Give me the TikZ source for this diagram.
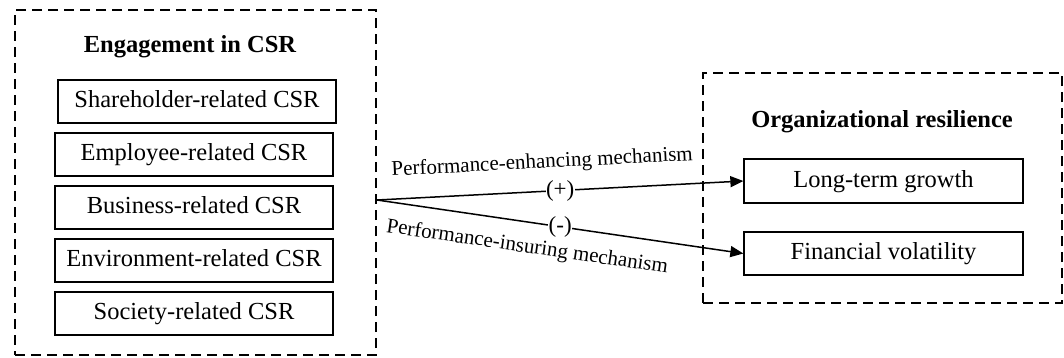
\documentclass[tikz,border=0pt]{standalone}
\usepackage{fontspec}
\setmainfont{Liberation Serif}
\usetikzlibrary{arrows.meta}
\begin{document}
\begin{tikzpicture}[x=1pt,y=-1pt,
  item/.style={draw, line width=1.3pt, minimum width=278pt, minimum height=43pt,
    inner sep=0pt, text height=17pt, text depth=5pt,
    font=\fontsize{24.5}{29}\selectfont},
  group/.style={draw, line width=1.4pt, dash pattern=on 10pt off 6pt, inner sep=0pt},
  ttl/.style={anchor=base, font=\fontsize{24.5}{29}\selectfont\bfseries},
  lbl/.style={font=\fontsize{21}{25}\selectfont, inner sep=1pt},
  sign/.style={font=\fontsize{23}{27}\selectfont, fill=white, inner sep=0.5pt},
  arr/.style={line width=1.5pt, -{Triangle[length=13pt,width=11pt]}}]
\useasboundingbox (0,0) rectangle (1064,357);
% groups
\node[group, minimum width=361pt, minimum height=345pt] (L) at (195.5,182.5) {};
\node[group, minimum width=359pt, minimum height=230pt] (R) at (882.5,188) {};
% titles
\node[ttl] (Lt) at (190,52) {Engagement in CSR};
\node[ttl] (Rt) at (882,127) {Organizational resilience};
% CSR items
\node[item] (sh) at (197,101.5) {Shareholder-related CSR};
\node[item] (em) at (194,154.5) {Employee-related CSR};
\node[item] (bu) at (194,207.5) {Business-related CSR};
\node[item] (en) at (194,260.5) {Environment-related CSR};
\node[item] (so) at (194,313.5) {Society-related CSR};
% outcomes
\node[item, minimum width=279pt, minimum height=44pt] (lt) at (883.5,181) {Long-term growth};
\node[item, minimum width=279pt, minimum height=43pt] (fv) at (883.5,253.5) {Financial volatility};
% connectors
\coordinate (src) at (377,200);
\draw[arr] (src) -- node[sign] {(+)}
  node[lbl, pos=0.455, sloped, above=17pt] {Performance-enhancing mechanism} (lt.west);
\draw[arr] (src) -- node[sign] {(-)}
  node[lbl, pos=0.42, sloped, below=14pt] {Performance-insuring mechanism} (fv.west);
\end{tikzpicture}
\end{document}
